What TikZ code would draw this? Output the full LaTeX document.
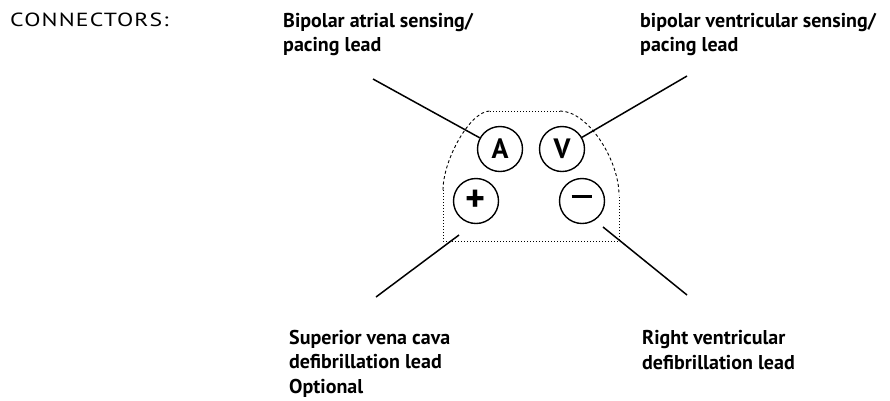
\documentclass[tikz,border=0pt]{standalone}
\usepackage{fontspec}
\setmainfont{PT Sans}
\newfontfamily\headfont[FakeStretch=1.25,LetterSpace=6]{PT Sans}
\begin{document}
\begin{tikzpicture}[x=1pt,y=-1pt,
  % multi-line labels: the base anchor sits on the last line
  lbl/.style={anchor=base west, inner sep=0pt, align=left,
              font=\bfseries\fontsize{20}{24.5}\selectfont},
  port/.style={circle, draw, line width=1.4pt, minimum size=45pt, inner sep=0pt,
               font=\bfseries\fontsize{28}{28}\selectfont},
  lead/.style={line width=1.5pt},
  shelldash/.style={line width=0.9pt, dash pattern=on 3pt off 2.5pt},
  shelldot/.style={line width=0.9pt, dash pattern=on 1pt off 2pt}]
\useasboundingbox (0,0) rectangle (890,400);

% heading and lead names
\node[anchor=base west, inner sep=0pt, font=\headfont\fontsize{19}{19}\selectfont]
  (title) at (10,26) {CONNECTORS:};
\node[lbl] (atrial) at (283,51.5) {Bipolar atrial sensing/\\pacing lead};
\node[lbl] (ventr) at (640,51.5) {bipolar ventricular sensing/\\pacing lead};
\node[lbl] (svc) at (289,393) {Superior vena cava\\defibrillation lead\\Optional};
\node[lbl] (rv) at (642,369) {Right ventricular\\defibrillation lead};

% header outline
\draw[shelldash] (443,190) .. controls (443,160) and (470,111) .. (490,111);
\draw[shelldot] (490,111) -- (560,111);
\draw[shelldash] (560,111) .. controls (588,111) and (619,160) .. (619,195);
\draw[shelldot] (443,190) -- (443,241) -- (619,241) -- (619,195);

% connector ports
\node[port] (A) at (500,149) {A};
\node[port] (V) at (562,149) {V};
\node[port, font=\bfseries\fontsize{38}{38}\selectfont] (P) at (476,201) {+};
\node[port, font=\bfseries\fontsize{38}{38}\selectfont] (M) at (582,201) {\rule[0.5ex]{0.55em}{0.09em}};

% leads
\coordinate (ta) at (373,79);
\coordinate (tv) at (687,76);
\coordinate (bp1) at (459,235);
\coordinate (bp2) at (376,297);
\coordinate (bm1) at (603,227);
\coordinate (bm2) at (687,295);
\draw[lead] (ta) -- (A);
\draw[lead] (tv) -- (V);
\draw[lead] (bp1) -- (bp2);
\draw[lead] (bm1) -- (bm2);
\end{tikzpicture}
\end{document}
